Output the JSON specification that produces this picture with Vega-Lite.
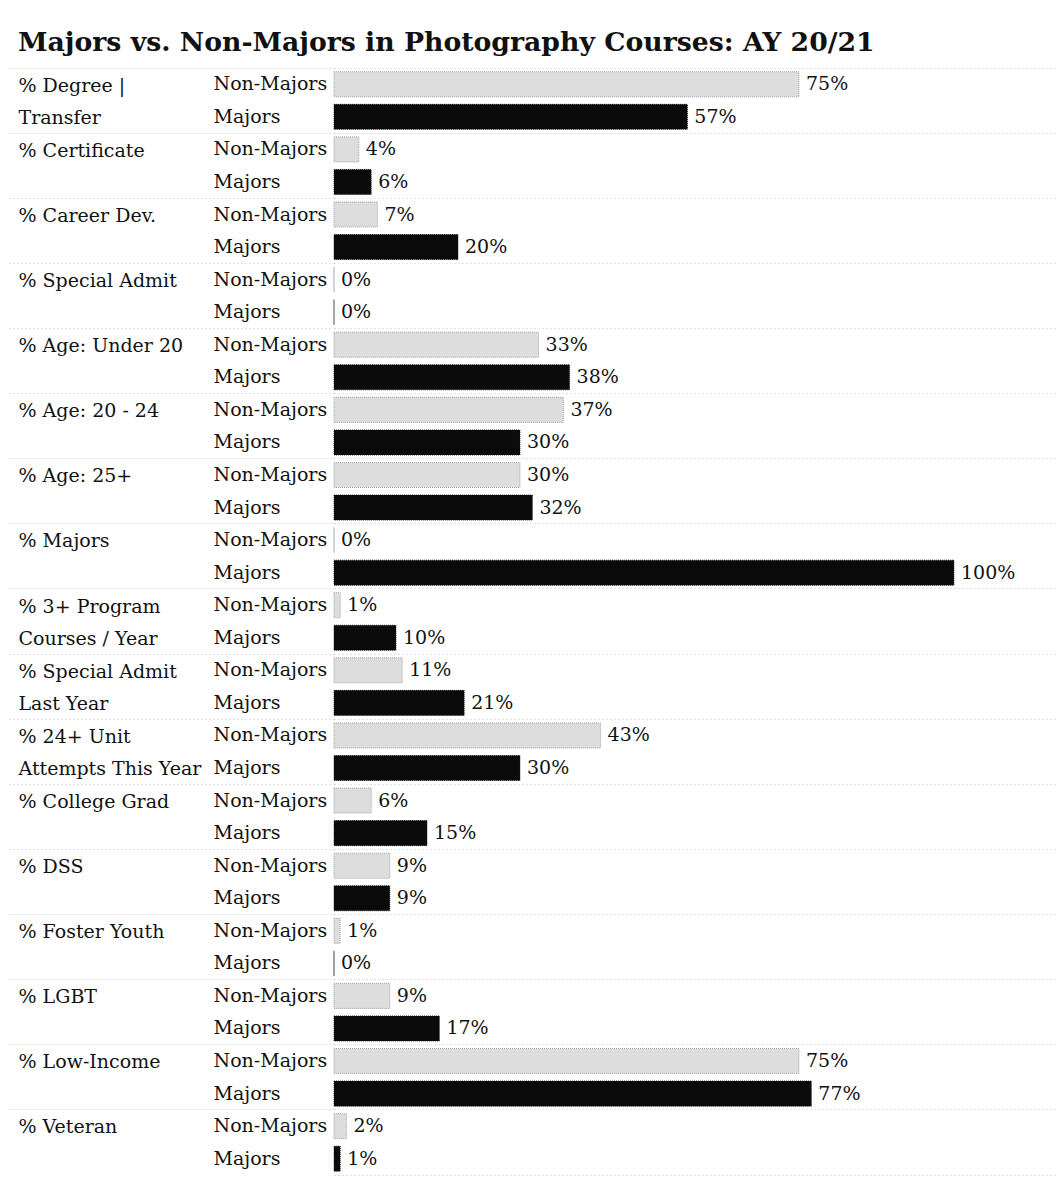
{
  "$schema": "https://vega.github.io/schema/vega-lite/v6.json",
  "autosize": {"type": "none"},
  "padding": {"left": 334, "top": 68, "right": 2, "bottom": 7},
  "width": 721,
  "height": 1107,
  "background": "white",
  "title": {
    "text": "Majors vs. Non-Majors in Photography Courses: AY 20/21",
    "anchor": "start",
    "frame": "group",
    "dx": -316,
    "offset": -10,
    "baseline": "alphabetic",
    "font": "DejaVu Serif",
    "fontWeight": "bold",
    "fontSize": 26.7,
    "color": "#111111"
  },
  "config": {
    "view": {"stroke": null},
    "font": "DejaVu Serif"
  },
  "data": {
    "values": [
      {"category": "% Degree |^Transfer", "group": "Non-Majors", "row": "1~Non-Majors", "value": 0.75},
      {"category": "% Degree |^Transfer", "group": "Majors", "row": "1~Majors", "value": 0.57},
      {"category": "% Certificate", "group": "Non-Majors", "row": "2~Non-Majors", "value": 0.04},
      {"category": "% Certificate", "group": "Majors", "row": "2~Majors", "value": 0.06},
      {"category": "% Career Dev.", "group": "Non-Majors", "row": "3~Non-Majors", "value": 0.07},
      {"category": "% Career Dev.", "group": "Majors", "row": "3~Majors", "value": 0.20},
      {"category": "% Special Admit", "group": "Non-Majors", "row": "4~Non-Majors", "value": 0.0},
      {"category": "% Special Admit", "group": "Majors", "row": "4~Majors", "value": 0.0},
      {"category": "% Age: Under 20", "group": "Non-Majors", "row": "5~Non-Majors", "value": 0.33},
      {"category": "% Age: Under 20", "group": "Majors", "row": "5~Majors", "value": 0.38},
      {"category": "% Age: 20 - 24", "group": "Non-Majors", "row": "6~Non-Majors", "value": 0.37},
      {"category": "% Age: 20 - 24", "group": "Majors", "row": "6~Majors", "value": 0.30},
      {"category": "% Age: 25+", "group": "Non-Majors", "row": "7~Non-Majors", "value": 0.30},
      {"category": "% Age: 25+", "group": "Majors", "row": "7~Majors", "value": 0.32},
      {"category": "% Majors", "group": "Non-Majors", "row": "8~Non-Majors", "value": 0.0},
      {"category": "% Majors", "group": "Majors", "row": "8~Majors", "value": 1.0},
      {"category": "% 3+ Program^Courses / Year", "group": "Non-Majors", "row": "9~Non-Majors", "value": 0.01},
      {"category": "% 3+ Program^Courses / Year", "group": "Majors", "row": "9~Majors", "value": 0.10},
      {"category": "% Special Admit^Last Year", "group": "Non-Majors", "row": "10~Non-Majors", "value": 0.11},
      {"category": "% Special Admit^Last Year", "group": "Majors", "row": "10~Majors", "value": 0.21},
      {"category": "% 24+ Unit^Attempts This Year", "group": "Non-Majors", "row": "11~Non-Majors", "value": 0.43},
      {"category": "% 24+ Unit^Attempts This Year", "group": "Majors", "row": "11~Majors", "value": 0.30},
      {"category": "% College Grad", "group": "Non-Majors", "row": "12~Non-Majors", "value": 0.06},
      {"category": "% College Grad", "group": "Majors", "row": "12~Majors", "value": 0.15},
      {"category": "% DSS", "group": "Non-Majors", "row": "13~Non-Majors", "value": 0.09},
      {"category": "% DSS", "group": "Majors", "row": "13~Majors", "value": 0.09},
      {"category": "% Foster Youth", "group": "Non-Majors", "row": "14~Non-Majors", "value": 0.01},
      {"category": "% Foster Youth", "group": "Majors", "row": "14~Majors", "value": 0.0},
      {"category": "% LGBT", "group": "Non-Majors", "row": "15~Non-Majors", "value": 0.09},
      {"category": "% LGBT", "group": "Majors", "row": "15~Majors", "value": 0.17},
      {"category": "% Low-Income", "group": "Non-Majors", "row": "16~Non-Majors", "value": 0.75},
      {"category": "% Low-Income", "group": "Majors", "row": "16~Majors", "value": 0.77},
      {"category": "% Veteran", "group": "Non-Majors", "row": "17~Non-Majors", "value": 0.02},
      {"category": "% Veteran", "group": "Majors", "row": "17~Majors", "value": 0.01}
    ]
  },
  "layer": [
    {
      "mark": {"type": "bar", "height": {"band": 0.77}, "strokeWidth": 0.8, "strokeDash": [1, 1]},
      "encoding": {
        "y": {
          "field": "row",
          "type": "nominal",
          "sort": null,
          "scale": {"type": "band", "paddingInner": 0, "paddingOuter": 0},
          "axis": {
            "orient": "left",
            "title": null,
            "domain": false,
            "ticks": false,
            "grid": false,
            "labelAlign": "left",
            "labelBaseline": "middle",
            "labelPadding": 121,
            "labelLimit": 0,
            "labelFont": "DejaVu Serif",
            "labelFontSize": 19,
            "labelColor": "#111111",
            "labelExpr": "split(datum.value, '~')[1]"
          }
        },
        "x": {
          "field": "value",
          "type": "quantitative",
          "scale": {"domain": [0, 1.163], "nice": false, "zero": true},
          "axis": {
            "orient": "bottom",
            "title": null,
            "labels": false,
            "ticks": false,
            "grid": false,
            "domain": true,
            "domainColor": "#bbbbbb",
            "domainDash": [1, 3],
            "domainWidth": 1
          }
        },
        "fill": {
          "field": "group",
          "type": "nominal",
          "scale": {"domain": ["Non-Majors", "Majors"], "range": ["#dddddd", "#0b0b0b"]},
          "legend": null
        },
        "stroke": {
          "field": "group",
          "type": "nominal",
          "scale": {"domain": ["Non-Majors", "Majors"], "range": ["#8f8f8f", "#0b0b0b"]},
          "legend": null
        }
      }
    },
    {
      "mark": {"type": "text", "align": "left", "baseline": "middle", "dx": 7, "font": "DejaVu Serif", "fontSize": 19, "color": "#111111"},
      "encoding": {
        "y": {
          "field": "category",
          "type": "nominal",
          "sort": null,
          "scale": {"type": "band", "paddingInner": 0, "paddingOuter": 0},
          "axis": {
            "orient": "left",
            "title": null,
            "domain": false,
            "bandPosition": 0,
            "ticks": true,
            "tickSize": 326,
            "tickColor": "#c4c4c4",
            "tickDash": [1, 3],
            "tickWidth": 1,
            "grid": true,
            "gridColor": "#c4c4c4",
            "gridDash": [1, 3],
            "gridWidth": 1,
            "labelAlign": "left",
            "labelBaseline": "top",
            "labelOffset": -24,
            "labelPadding": -10,
            "labelLimit": 0,
            "labelLineHeight": 32.5,
            "labelFont": "DejaVu Serif",
            "labelFontSize": 19,
            "labelColor": "#111111",
            "labelExpr": "split(datum.value, '^')"
          }
        },
        "yOffset": {
          "field": "group",
          "type": "nominal",
          "sort": ["Non-Majors", "Majors"],
          "scale": {"type": "band", "paddingInner": 0, "paddingOuter": 0}
        },
        "x": {"field": "value", "type": "quantitative"},
        "text": {"field": "value", "type": "quantitative", "format": ".0%"}
      }
    }
  ],
  "resolve": {"scale": {"y": "independent"}, "axis": {"y": "independent"}}
}
